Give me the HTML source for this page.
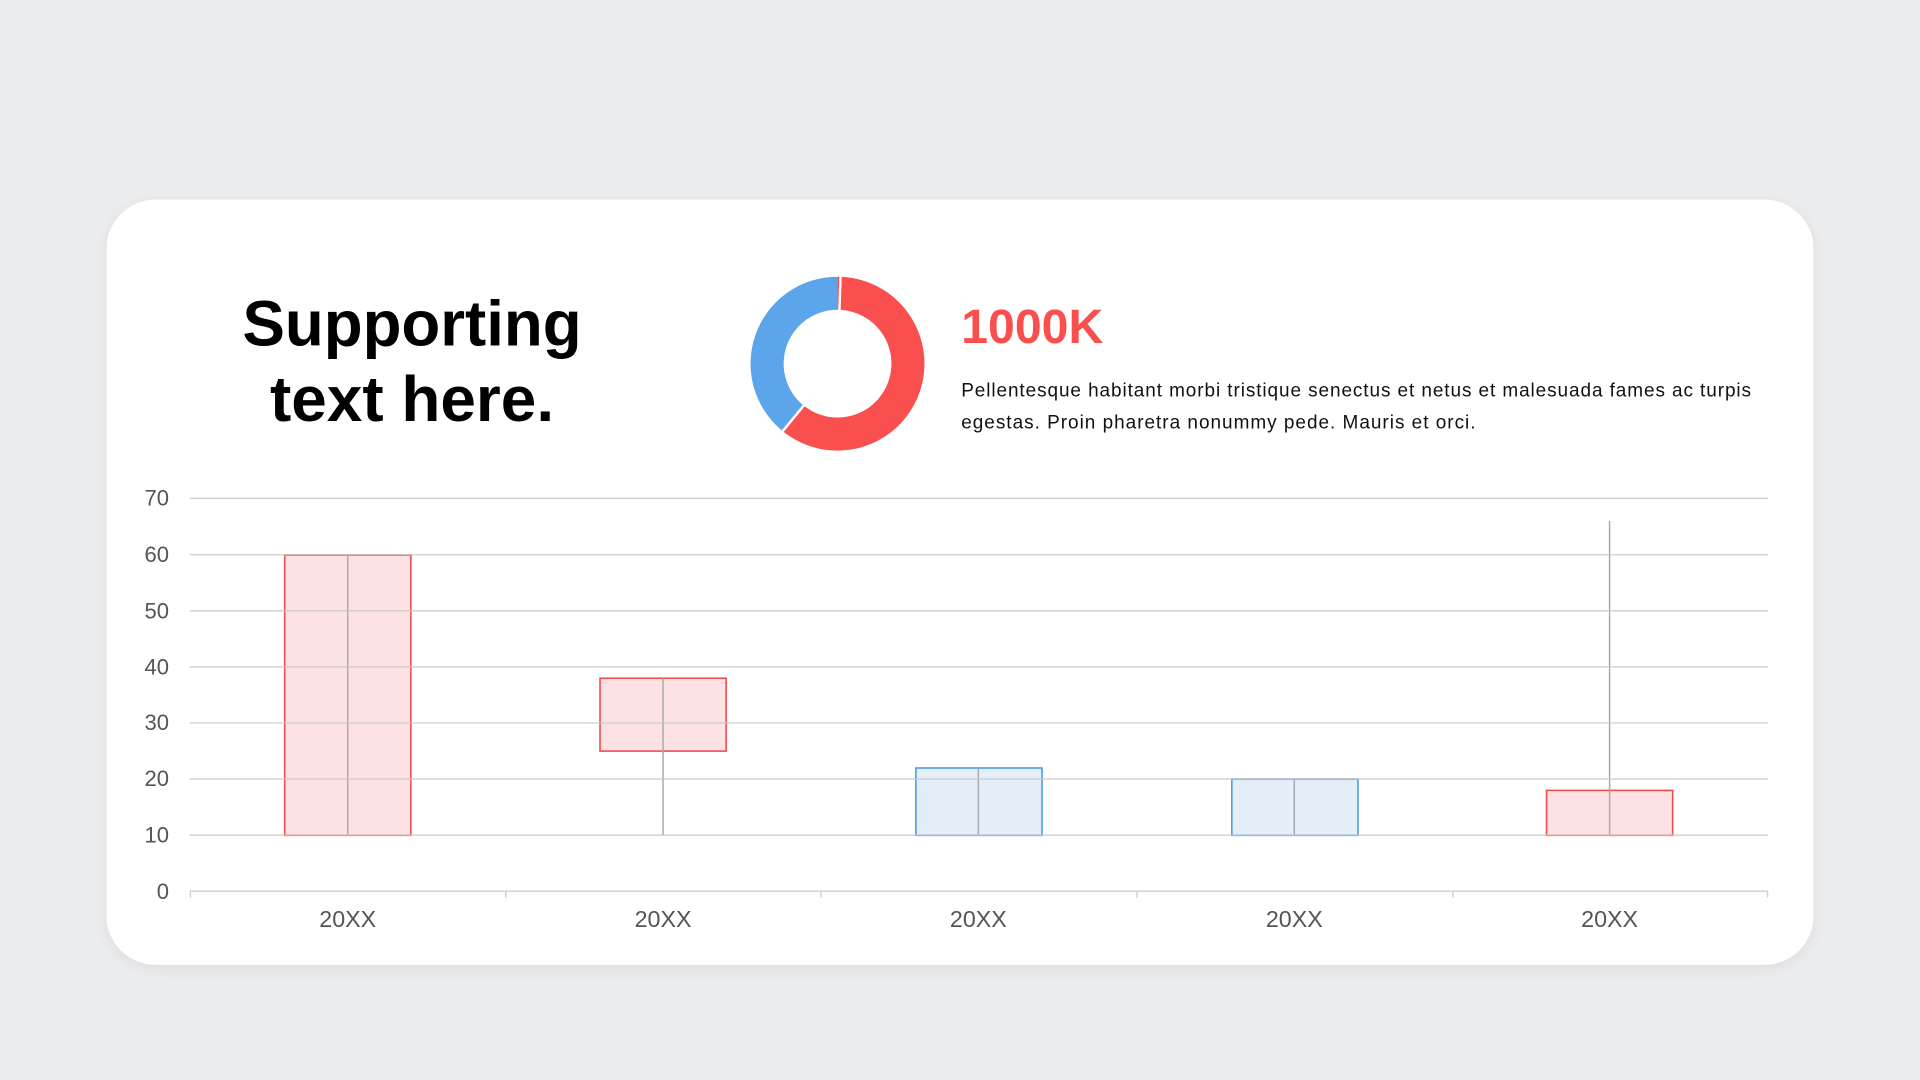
<!DOCTYPE html>
<html><head><style>
html,body{margin:0;padding:0;background:#ebecee;}
svg{display:block;font-family:"Liberation Sans",Arial,sans-serif;}
</style></head><body>
<svg width="1920" height="1080" viewBox="0 0 1568 882" xmlns="http://www.w3.org/2000/svg">
<defs><filter id="sh" x="-5%" y="-10%" width="110%" height="120%"><feGaussianBlur stdDeviation="6"/></filter></defs>
<rect width="1568" height="882" fill="#ebecee"/>
<rect x="87" y="166" width="1394" height="625" rx="40" fill="#000" opacity="0.06" filter="url(#sh)"/>
<rect x="87" y="163" width="1394" height="625" rx="40" fill="#fff"/>
<text x="336.5" y="282" text-anchor="middle" font-size="52" font-weight="bold" fill="#000" textLength="277" lengthAdjust="spacingAndGlyphs">Supporting</text>
<text x="336.5" y="344" text-anchor="middle" font-size="52" font-weight="bold" fill="#000" textLength="232" lengthAdjust="spacingAndGlyphs">text here.</text>
<!-- donut -->
<g transform="translate(684,297)">
<path d="M0,-71 A71,71 0 1 1 -44.7,55.2 L-27.7,34.2 A44,44 0 1 0 0,-44 Z" fill="#f94f4f"/>
<path d="M-44.7,55.2 A71,71 0 0 1 0,-71 L0,-44 A44,44 0 0 0 -27.7,34.2 Z" fill="#5da5ea"/>
<line x1="2.5" y1="-72" x2="1.5" y2="-43" stroke="#fff" stroke-width="2"/>
<line x1="-45.5" y1="56" x2="-27" y2="33.5" stroke="#fff" stroke-width="2"/>
</g>
<text x="785" y="280" font-size="39.5" font-weight="bold" fill="#f94f4f" textLength="116" lengthAdjust="spacingAndGlyphs">1000K</text>
<text x="785" y="324" font-size="15.5" fill="#111" textLength="645" lengthAdjust="spacing">Pellentesque habitant morbi tristique senectus et netus et malesuada fames ac turpis</text>
<text x="785" y="350" font-size="15.5" fill="#111" textLength="420" lengthAdjust="spacing">egestas. Proin pharetra nonummy pede. Mauris et orci.</text>
<!-- bars -->
<g stroke-width="1.3">
<rect x="232.5" y="453.3" width="103" height="228.9" fill="#fde2e4" stroke="#f24a4e"/>
<rect x="490" y="553.9" width="103" height="59.5" fill="#fde2e4" stroke="#f24a4e"/>
<rect x="748" y="627.2" width="103" height="55" fill="#e4eef9" stroke="#4d9be6"/>
<rect x="1006" y="636.3" width="103" height="45.9" fill="#e4eef9" stroke="#4d9be6"/>
<rect x="1263" y="645.5" width="103" height="36.7" fill="#fde2e4" stroke="#f24a4e"/>
</g>
<g stroke="#a8a8b0" stroke-width="1.2">
<line x1="284" y1="453.3" x2="284" y2="682.2"/>
<line x1="541.5" y1="553.9" x2="541.5" y2="682.2"/>
<line x1="799" y1="627.2" x2="799" y2="682.2"/>
<line x1="1057" y1="636.3" x2="1057" y2="682.2"/>
<line x1="1314.5" y1="425.5" x2="1314.5" y2="682.2"/>
</g>
<!-- grid -->
<g stroke="#c8c8c8" stroke-opacity="0.8" stroke-width="1.2">
<line x1="155" y1="407" x2="1444" y2="407"/>
<line x1="155" y1="453" x2="1444" y2="453"/>
<line x1="155" y1="498.8" x2="1444" y2="498.8"/>
<line x1="155" y1="544.6" x2="1444" y2="544.6"/>
<line x1="155" y1="590.4" x2="1444" y2="590.4"/>
<line x1="155" y1="636.2" x2="1444" y2="636.2"/>
<line x1="155" y1="682" x2="1444" y2="682"/>
</g>
<g stroke="#d0d0d0" stroke-width="1.2">
<line x1="155" y1="727.8" x2="1444" y2="727.8"/>
<line x1="155.5" y1="727.8" x2="155.5" y2="733"/>
<line x1="413" y1="727.8" x2="413" y2="733"/>
<line x1="670.5" y1="727.8" x2="670.5" y2="733"/>
<line x1="928.5" y1="727.8" x2="928.5" y2="733"/>
<line x1="1186.5" y1="727.8" x2="1186.5" y2="733"/>
<line x1="1443.5" y1="727.8" x2="1443.5" y2="733"/>
</g>
<g font-size="18" fill="#555" text-anchor="end">
<text x="138" y="413">70</text><text x="138" y="459">60</text><text x="138" y="505">50</text>
<text x="138" y="551">40</text><text x="138" y="596">30</text><text x="138" y="642">20</text>
<text x="138" y="688">10</text><text x="138" y="734">0</text>
</g>
<g font-size="19" fill="#555" text-anchor="middle">
<text x="284" y="757">20XX</text><text x="541.5" y="757">20XX</text><text x="799" y="757">20XX</text>
<text x="1057" y="757">20XX</text><text x="1314.5" y="757">20XX</text>
</g>
</svg>
</body></html>
